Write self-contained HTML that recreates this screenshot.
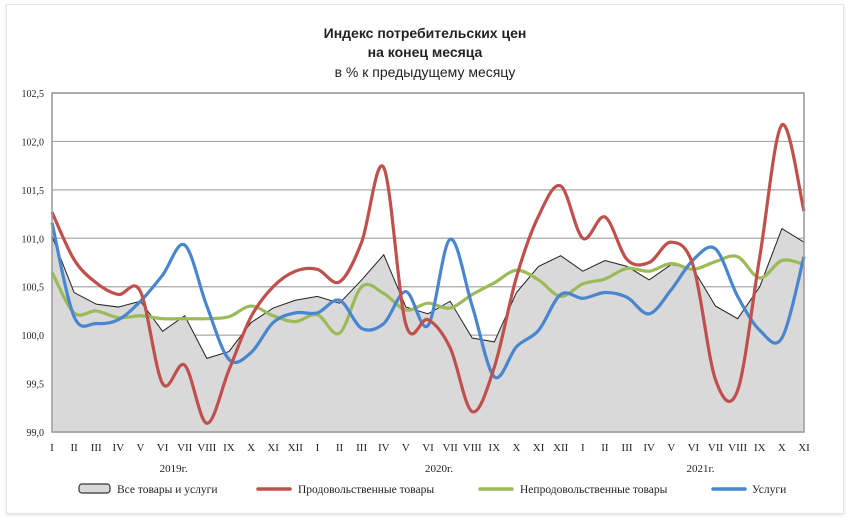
<!DOCTYPE html>
<html><head><meta charset="utf-8"><style>
body{margin:0;background:#fff;width:857px;height:531px;overflow:hidden;font-family:"Liberation Sans",sans-serif}
#card{position:absolute;left:6px;top:4px;width:836px;height:508px;border:1px solid #e4e4e4;box-shadow:0 1px 3px #ddd}
</style></head><body>
<div id="card"></div>
<svg id="chart" width="857" height="531" style="position:absolute;left:0;top:0">
<text x="425" y="38" text-anchor="middle" font-weight="bold" font-size="14" fill="#222">Индекс потребительских цен</text>
<text x="425" y="57" text-anchor="middle" font-weight="bold" font-size="14" fill="#222">на конец месяца</text>
<text x="425" y="77" text-anchor="middle" font-size="14" fill="#222">в % к предыдущему месяцу</text>
<g id="grid"></g><g id="area"></g><g id="lines"></g><g id="axes"></g><g id="legend"></g>
</svg>
<script>
const months=["I","II","III","IV","V","VI","VII","VIII","IX","X","XI","XII","I","II","III","IV","V","VI","VII","VIII","IX","X","XI","XII","I","II","III","IV","V","VI","VII","VIII","IX","X","XI"];
const years=["2019г.","2020г.","2021г."];
const yTicks=["99,0","99,5","100,0","100,5","101,0","101,5","102,0","102,5"];
const allGoods=[101.02,100.44,100.32,100.29,100.35,100.04,100.2,99.76,99.83,100.13,100.28,100.36,100.4,100.33,100.57,100.83,100.29,100.22,100.35,99.97,99.93,100.44,100.71,100.82,100.66,100.77,100.71,100.57,100.73,100.68,100.3,100.17,100.5,101.1,100.96];
const food=[101.27,100.78,100.54,100.42,100.45,99.5,99.69,99.09,99.64,100.19,100.5,100.66,100.68,100.55,100.96,101.73,100.11,100.16,99.87,99.21,99.67,100.6,101.23,101.54,101.0,101.22,100.78,100.75,100.96,100.71,99.54,99.43,100.81,102.17,101.28];
const nonFood=[100.65,100.23,100.25,100.18,100.2,100.17,100.17,100.17,100.19,100.3,100.2,100.14,100.21,100.02,100.5,100.43,100.26,100.33,100.28,100.42,100.54,100.67,100.57,100.4,100.53,100.58,100.69,100.66,100.74,100.68,100.76,100.81,100.59,100.77,100.73];
const services=[101.16,100.19,100.12,100.16,100.35,100.62,100.93,100.3,99.75,99.82,100.13,100.23,100.23,100.36,100.07,100.12,100.45,100.1,100.99,100.3,99.57,99.88,100.05,100.42,100.38,100.44,100.39,100.22,100.47,100.78,100.89,100.4,100.05,99.97,100.81];
const NS="http://www.w3.org/2000/svg";
const L=52,R=804,T=93,B=432,ymin=99,ymax=102.5;
const xs=i=>L+(R-L)*i/(months.length-1);
const ys=v=>B-(v-ymin)/(ymax-ymin)*(B-T);
function mk(tag,attrs,parent){const e=document.createElementNS(NS,tag);for(const k in attrs)e.setAttribute(k,attrs[k]);parent.appendChild(e);return e;}
const grid=document.getElementById('grid'),axes=document.getElementById('axes'),area=document.getElementById('area'),lines=document.getElementById('lines'),leg=document.getElementById('legend');
yTicks.forEach((t,i)=>{const v=ymin+i*0.5;const y=ys(v);
 const g=mk('line',{x1:L,x2:R,y1:y,y2:y,stroke:'#a8a8a8','stroke-width':1.2},grid);
 
 
 const tx=mk('text',{x:44,y:y+4,'text-anchor':'end','font-size':10,'font-family':'Liberation Serif,serif',fill:'#222'},axes);tx.textContent=t;
 
 
});
const fr=mk('rect',{x:L,y:T,width:R-L,height:B-T,fill:'none',stroke:'#999','stroke-width':1.5},axes);


months.forEach((m,i)=>{const tx=mk('text',{x:xs(i),y:451,'text-anchor':'middle','font-size':11,'font-family':'Liberation Serif,serif',fill:'#222'},axes);tx.textContent=m;
 
 });
years.forEach((y,i)=>{const tx=mk('text',{x:xs(5.5+12*i)+(i==2?-4:0),y:472,'text-anchor':'middle','font-size':11,'font-family':'Liberation Serif,serif',fill:'#222'},axes);tx.textContent=y;
 
 });
let d='M'+xs(0)+','+B;allGoods.forEach((v,i)=>d+=' L'+xs(i)+','+ys(v));d+=' L'+xs(allGoods.length-1)+','+B+' Z';
const ar=mk('path',{d:d,fill:'#d9d9d9',stroke:'none'},area);


let dl='';allGoods.forEach((v,i)=>dl+=(i?' L':'M')+xs(i)+','+ys(v));
const al=mk('path',{d:dl,fill:'none',stroke:'#222','stroke-width':1},area);


function smooth(arr){const p=arr.map((v,i)=>[xs(i),ys(v)]);let s='M'+p[0][0]+','+p[0][1];
 for(let i=0;i<p.length-1;i++){const p0=p[Math.max(i-1,0)],p1=p[i],p2=p[i+1],p3=p[Math.min(i+2,p.length-1)];
 const c1=[p1[0]+(p2[0]-p0[0])/6,p1[1]+(p2[1]-p0[1])/6],c2=[p2[0]-(p3[0]-p1[0])/6,p2[1]-(p3[1]-p1[1])/6];
 s+=' C'+c1[0]+','+c1[1]+' '+c2[0]+','+c2[1]+' '+p2[0]+','+p2[1];}return s;}
const nf=mk('path',{d:smooth(nonFood),fill:'none',stroke:'#9bbb59','stroke-width':3.2},lines);


const sv=mk('path',{d:smooth(services),fill:'none',stroke:'#4a86d0','stroke-width':3.2},lines);


const fd=mk('path',{d:smooth(food),fill:'none',stroke:'#c0504d','stroke-width':3.2},lines);


const lb=mk('rect',{x:79,y:484,width:31,height:9,rx:3,fill:'#d9d9d9',stroke:'#333','stroke-width':1.2},leg);


const items=[["Все товары и услуги",117,null,null],["Продовольственные товары",298,'#c0504d',258],["Непродовольственные товары",520,'#9bbb59',480],["Услуги",752,'#4a86d0',713]];
items.forEach(it=>{if(it[2]){const l=mk('line',{x1:it[3],x2:it[3]+32,y1:489,y2:489,stroke:it[2],'stroke-width':3.5,'stroke-linecap':'round'},leg);
 
 }
 const tx=mk('text',{x:it[1],y:493,'font-size':11.5,'font-family':'Liberation Serif,serif',fill:'#222'},leg);tx.textContent=it[0];
 
 });
</script>
</body></html>
